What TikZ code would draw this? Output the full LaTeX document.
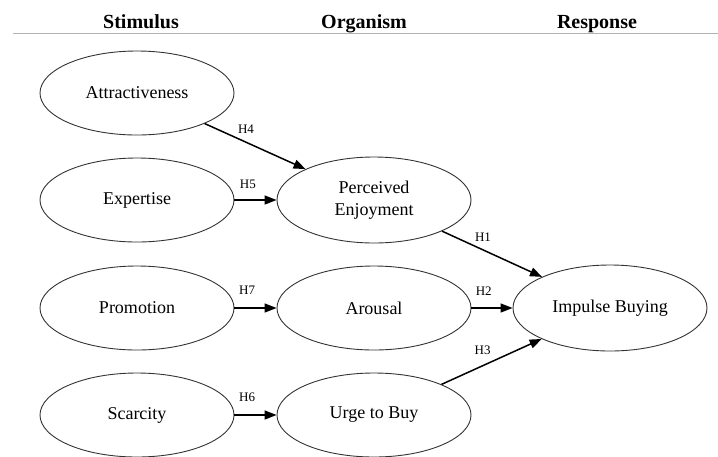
\documentclass[tikz,border=0pt]{standalone}
\usepackage{fontspec}
\setmainfont{Liberation Serif}
\usetikzlibrary{shapes.geometric,arrows.meta}
\begin{document}
\begin{tikzpicture}[x=1pt,y=1pt,
  state/.style={ellipse,draw=black!80,line width=0.9pt,minimum width=194pt,minimum height=84pt,inner sep=0pt,font=\fontsize{18}{22}\selectfont,align=center},
  head/.style={font=\fontsize{20}{24}\selectfont\bfseries,anchor=base,inner sep=0pt},
  link/.style={line width=1.5pt,-{Triangle[length=12pt,width=9pt]}},
  hlab/.style={font=\fontsize{13}{15}\selectfont,inner sep=0pt}]
\useasboundingbox (0,0) rectangle (718,-456);
% headers
\node[head] (hs) at (141,-28) {Stimulus};
\node[head] (ho) at (364,-28) {Organism};
\node[head] (hr) at (597,-28) {Response};
\coordinate (l1) at (13,-33);
\coordinate (l2) at (718,-33);
\draw[black!30,line width=0.9pt] (l1) -- (l2);
% stimulus
\node[state] (att) at (137,-93) {Attractiveness};
\node[state] (exp) at (137,-200) {Expertise};
\node[state] (pro) at (137,-308) {Promotion};
\node[state] (sca) at (137,-415) {Scarcity};
% organism
\node[state,minimum height=86pt] (pe) at (374,-200) {Perceived\\Enjoyment};
\node[state] (aro) at (374,-308) {Arousal};
\node[state] (urg) at (374,-415) {Urge to Buy};
% response
\node[state,minimum height=86pt] (imp) at (610,-308) {Impulse Buying};
% edges
\draw[link] (att) -- node[hlab,pos=0.41,above=8pt] {H4} (pe);
\draw[link] (exp) -- node[hlab,pos=0.32,above=11pt] {H5} (pe);
\draw[link] (pro) -- node[hlab,pos=0.3,above=13pt] {H7} (aro);
\draw[link] (sca) -- node[hlab,pos=0.3,above=13pt] {H6} (urg);
\draw[link] (pe) -- node[hlab,pos=0.41,above=8pt] {H1} (imp);
\draw[link] (aro) -- node[hlab,pos=0.3,above=12pt] {H2} (imp);
\draw[link] (urg) -- node[hlab,pos=0.41,above=10pt] {H3} (imp);
\end{tikzpicture}
\end{document}
